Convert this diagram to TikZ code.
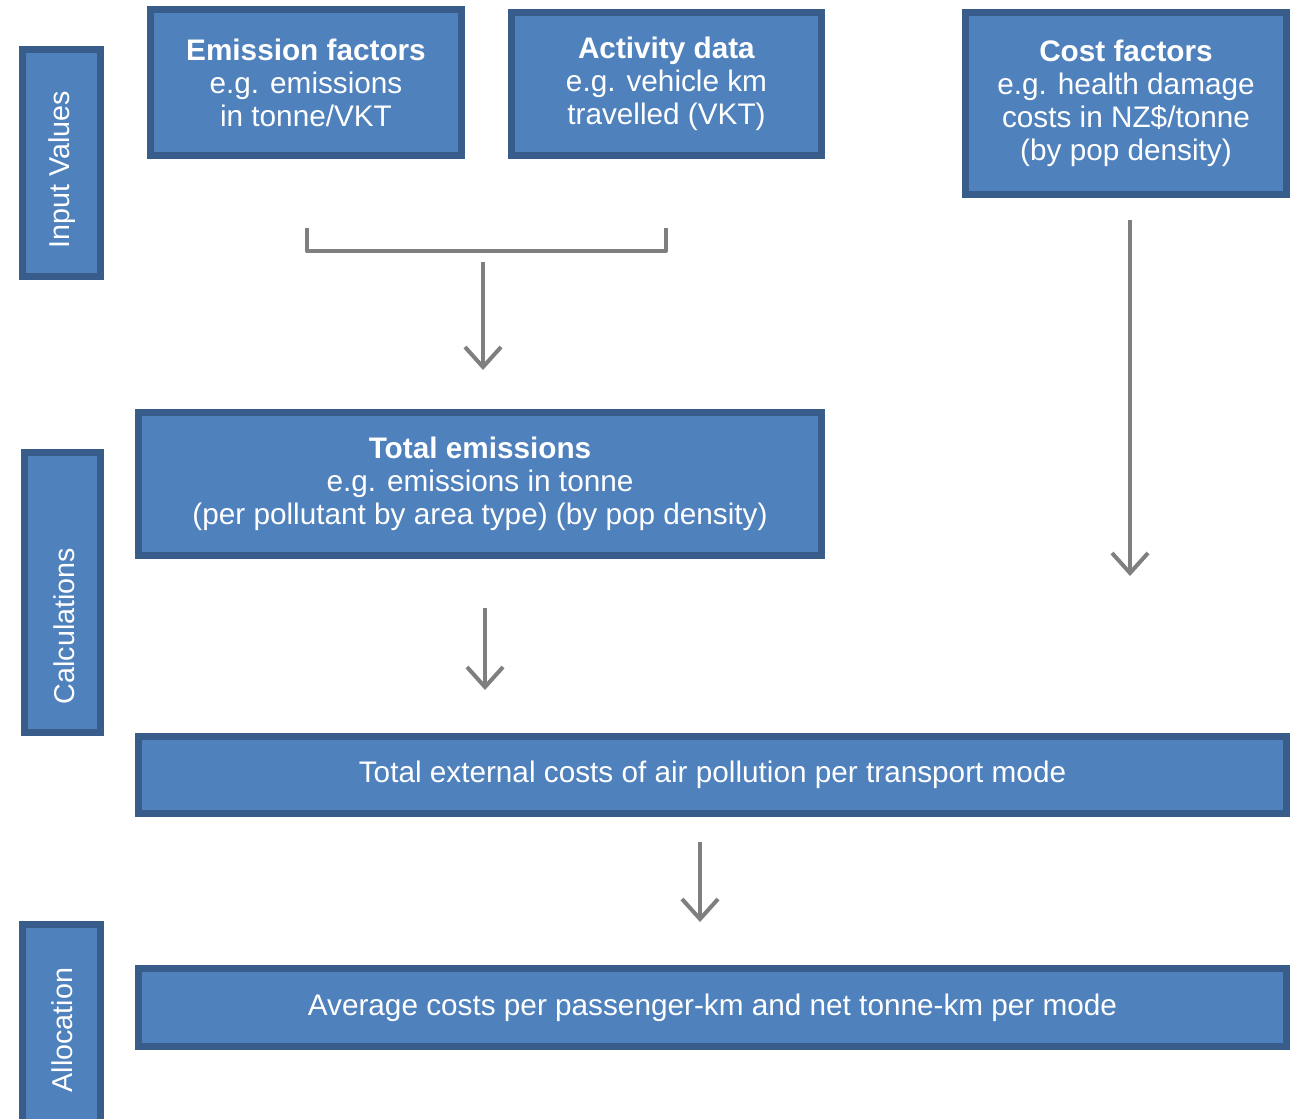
\documentclass[tikz,border=0pt]{standalone}
\usepackage{fontspec}
\setmainfont{Liberation Sans}
\usetikzlibrary{arrows.meta}
\begin{document}
\begin{tikzpicture}[x=0.75pt,y=-0.75pt,
  box/.style={draw=boxedge,fill=boxfill,line width=5.25pt,inner sep=0pt,
    text=white,align=center,font=\fontsize{22.3}{24.75}\selectfont},
  sz/.style 2 args={minimum width=#1*0.75pt,minimum height=#2*0.75pt},
  lbl/.style={text=white,inner sep=0pt,font=\fontsize{21.5}{24}\selectfont},
  conn/.style={draw=linegray,line width=3pt,line join=round},
  arr/.style={conn,-{Straight Barb[length=15pt,width=27pt,line width=3pt]}}]
\definecolor{boxfill}{HTML}{4F81BD}
\definecolor{boxedge}{HTML}{385D8A}
\definecolor{linegray}{HTML}{7F7F7F}
\useasboundingbox (0,0) rectangle (1298,1118);
% side boxes
\node[box,sz={78}{227}] (inp) at (61.5,163) {};
\node[box,sz={76}{280}] (calc) at (62.5,592.5) {};
\node[box,sz={78}{210.5}] (alloc) at (61.5,1029.75) {};
\node[lbl] (inpt) at (62,170) {\rotatebox{90}{Input Values}};
\node[lbl] (calct) at (64,626) {\rotatebox{90}{Calculations}};
\node[lbl] (allott) at (62,1030) {\rotatebox{90}{Allocation}};
% top boxes
\node[box,sz={311}{146}] (emf) at (306,82.5) {\textbf{Emission factors}\\e.g. emissions\\in tonne/VKT};
\node[box,sz={310}{143}] (act) at (666.5,84) {\textbf{Activity data}\\e.g. vehicle km\\travelled (VKT)};
\node[box,sz={321}{182}] (cost) at (1126,103.5) {\textbf{Cost factors}\\e.g. health damage\\costs in NZ\$/tonne\\(by pop density)};
% middle
\node[box,sz={683}{143}] (tem) at (480,484) {\textbf{Total emissions}\\e.g. emissions in tonne\\(per pollutant by area type) (by pop density)};
\node[box,sz={1148}{77}] (tec) at (712.5,775) {Total external costs of air pollution per transport mode};
\node[box,sz={1148}{78}] (avg) at (712.5,1007.5) {Average costs per passenger-km and net tonne-km per mode};
% connectors
\coordinate (bl) at (307,228);
\coordinate (br) at (666,228);
\draw[conn] (bl) -- (307,251) -- (666,251) -- (br);
\coordinate (a1s) at (483,262);
\coordinate (a1e) at (483,370);
\draw[arr] (a1s) -- (a1e);
\coordinate (a2s) at (1130,220);
\coordinate (a2e) at (1130,576);
\draw[arr] (a2s) -- (a2e);
\coordinate (a3s) at (485,608);
\coordinate (a3e) at (485,690);
\draw[arr] (a3s) -- (a3e);
\coordinate (a4s) at (700,842);
\coordinate (a4e) at (700,922);
\draw[arr] (a4s) -- (a4e);
\end{tikzpicture}
\end{document}
